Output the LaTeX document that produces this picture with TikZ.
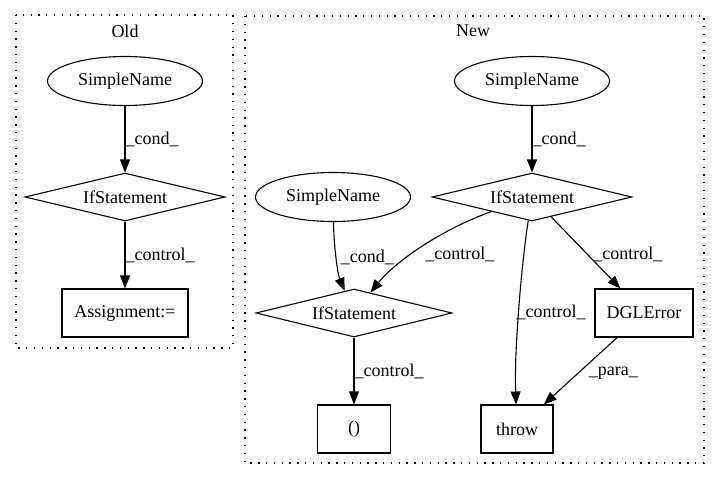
\documentclass[tikz,border=0pt]{standalone}
\usepackage{fontspec}
\setmainfont{Liberation Serif}
\usetikzlibrary{shapes.geometric,arrows.meta}
\begin{document}
\begin{tikzpicture}[x=1pt,y=-1pt,
    every node/.style={font=\fontsize{18}{20}\selectfont},
    ell/.style={draw,ellipse,line width=1.1pt,minimum width=155pt,minimum height=49pt,inner sep=0pt},
    cnd/.style={draw,diamond,aspect=4,line width=1.1pt,minimum width=200pt,minimum height=48pt,inner sep=0pt},
    box/.style={draw,rectangle,line width=1.1pt,minimum height=48pt,inner sep=0pt},
    edge/.style={line width=1.1pt,-{Triangle[length=13pt,width=10pt]}},
    lbl/.style={anchor=west,inner sep=0pt},
    grp/.style={line width=1.3pt,dash pattern=on 1.3pt off 6.5pt}]
    \useasboundingbox(0,0)rectangle(720,480);
    % clusters
    \draw[grp](16,15)rectangle(233,348);
    \node(old)at(125,31){Old};
    \draw[grp](245,16)rectangle(704,463);
    \node(new)at(473,31){New};
    % old
    \node[ell](nameA)at(125,81){SimpleName};
    \node[cnd](ifA)at(125,197){IfStatement};
    \node[box,minimum width=126pt](assign)at(125,313){Assignment:=};
    \draw[edge](nameA)--(ifA)node[lbl,pos=0.5]{\_cond\_};
    \draw[edge](ifA)--(assign)node[lbl,pos=0.5]{\_control\_};
    % new
    \node[ell](nameB)at(532,81){SimpleName};
    \node[cnd](ifB)at(532,197){IfStatement};
    \node[ell](nameC)at(333,197){SimpleName};
    \node[cnd,minimum width=196pt](ifC)at(354,313){IfStatement};
    \node[box,minimum width=98pt](dgl)at(644,313){DGLError};
    \node[box,minimum width=73pt](call)at(354,429){()};
    \node[box,minimum width=72pt](throw)at(517,429){throw};
    \draw[edge](nameB)--(ifB)node[lbl,pos=0.5]{\_cond\_};
    \draw[edge](ifB)..controls(440,230)and(395,262)..(ifC)node[lbl,pos=0.5,xshift=4pt,yshift=-7pt]{\_control\_};
    \draw[edge](ifB)..controls(522,260)and(514,350)..(throw)node[lbl,pos=0.5,xshift=-3pt,yshift=-6pt]{\_control\_};
    \draw[edge](ifB)--(dgl)node[lbl,pos=0.53,xshift=5pt]{\_control\_};
    \draw[edge](dgl)--(throw)node[lbl,pos=0.53,xshift=10pt]{\_para\_};
    \draw[edge](nameC)..controls(334,250)and(338,275)..(ifC)node[lbl,pos=0.45,xshift=4pt]{\_cond\_};
    \draw[edge](ifC)--(call)node[lbl,pos=0.5]{\_control\_};
\end{tikzpicture}
\end{document}
